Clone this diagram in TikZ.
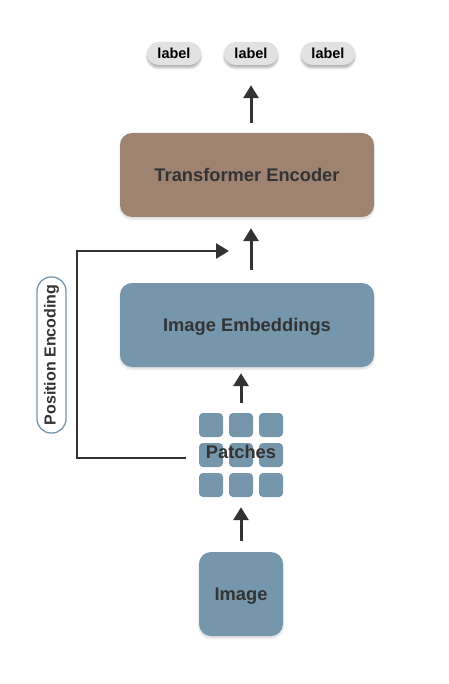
\documentclass[tikz,border=0pt]{standalone}
\usepackage{fontspec}
\setmainfont{Liberation Sans}
\usetikzlibrary{arrows.meta,shadows.blur}
\definecolor{bluegray}{HTML}{7596AB}
\definecolor{brownbox}{HTML}{9E8470}
\definecolor{txt}{HTML}{333333}
\definecolor{pillgray}{HTML}{E2E2E2}
\tikzset{
  bigfont/.style={font=\bfseries\fontsize{18.3}{20}\selectfont, text height=13pt, text depth=0pt},
  box/.style={rounded corners=12pt, text=txt, bigfont,
    blur shadow={shadow blur steps=6, shadow xshift=0pt, shadow yshift=-2pt, shadow opacity=15}},
  pill/.style={rounded corners=11.5pt, fill=pillgray, minimum width=54pt, minimum height=23pt, text=black,
    inner sep=0pt, font=\bfseries\fontsize{14.5}{16}\selectfont,
    blur shadow={shadow blur steps=6, shadow xshift=0pt, shadow yshift=-3pt, shadow opacity=30}},
  patch/.style={fill=bluegray, rounded corners=4pt, minimum size=24pt, inner sep=0pt},
  arr/.style={-{Triangle[width=15pt,length=13pt]}, line width=3pt, draw=txt},
  conn/.style={line width=2.7pt, draw=txt}
}
\begin{document}
\begin{tikzpicture}[x=1pt,y=-1pt]
\useasboundingbox (0,0) rectangle (448,684);
% labels
\node[pill] (l1) at (174,53.5) {label};
\node[pill] (l2) at (251,53.5) {label};
\node[pill] (l3) at (328,53.5) {label};
% boxes
\node[box, fill=brownbox, minimum width=254pt, minimum height=84pt] (enc) at (247,175) {Transformer Encoder};
\node[box, fill=bluegray, minimum width=254pt, minimum height=84pt] (emb) at (247,325) {Image Embeddings};
\node[box, fill=bluegray, minimum width=84pt, minimum height=84pt] (img) at (241,594) {Image};
% patches
\foreach \r/\y in {1/425,2/455,3/485}{
  \foreach \c/\x in {1/211,2/241,3/271}{
    \node[patch] (p\r\c) at (\x,\y) {};
  }
}
\node[minimum size=84pt, inner sep=0pt] (patches) at (241,455) {};
\node[text=txt, bigfont] (ptxt) at (241,452) {Patches};
% position encoding pill
\node[draw=bluegray, line width=1.3pt, fill=white, rounded corners=14pt, rotate=90, inner sep=0pt,
  minimum width=156pt, minimum height=29pt, text=txt, font=\bfseries\fontsize{16}{18}\selectfont] (pe) at (51.5,355) {Position Encoding};
% connectors
\draw[arr, shorten <=11pt, shorten >=10pt] (img.north) -- (patches.south);
\draw[arr, shorten <=10pt, shorten >=6pt] (patches.north) -- (img.north |- emb.south);
\draw[arr, shorten <=13pt, shorten >=11pt] (l2.south |- emb.north) -- (l2.south |- enc.south);
\draw[arr, shorten <=10pt, shorten >=20pt] (l2.south |- enc.north) -- (l2.south);
\coordinate (pestart) at (186,458);
\coordinate (peend) at (229,251);
\draw[conn, -{Triangle[width=15pt,length=13pt]}] (pestart) -- (77,458) -- (77,251) -- (peend);
\end{tikzpicture}
\end{document}
